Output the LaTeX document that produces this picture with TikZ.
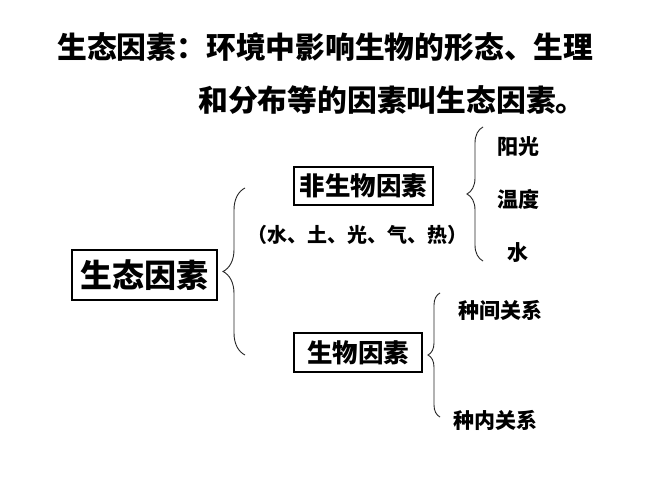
\documentclass[tikz,border=0pt]{standalone}
\usepackage{fontspec}
\newfontfamily\cjk{Noto Sans CJK SC}
\usetikzlibrary{decorations.pathreplacing}
\newcommand\myfs[1]{\fontsize{#1}{#1}\selectfont}
\begin{document}
\begin{tikzpicture}[x=1pt,y=-1pt,
  box/.style={draw=black,line width=1.2pt,inner sep=0pt,font=\cjk\bfseries},
  lbl/.style={inner sep=0pt,font=\cjk\bfseries},
  brc/.style={decorate,decoration={brace,amplitude=#1},line width=0.9pt,draw=black!85}]
\useasboundingbox[fill=white] (0,0) rectangle (667,500);
% title
\node[lbl,anchor=west] (t1) at (57,47) {\myfs{29.8}生态因素：环境中影响生物的形态、生理};
\node[lbl,anchor=west] (t2) at (198,100) {\myfs{29.8}和分布等的因素叫生态因素。};
% boxes
\node[box,minimum width=145pt,minimum height=50pt] (root) at (144.5,275) {\myfs{32}生态因素};
\node[box,minimum width=139pt,minimum height=38pt] (abio) at (363.5,186) {\myfs{25.5}非生物因素};
\node[lbl] (abiosub) at (357,235) {\myfs{20}（水、土、光、气、热）};
\node[box,minimum width=128pt,minimum height=39pt] (bio) at (358,352.5) {\myfs{25.5}生物因素};
% leaves
\node[lbl] (sun) at (518,147) {\myfs{21}阳光};
\node[lbl] (temp) at (518,199) {\myfs{21}温度};
\node[lbl] (water) at (518,253) {\myfs{21}水};
\node[lbl] (inter) at (500,310) {\myfs{21}种间关系};
\node[lbl] (intra) at (495,420) {\myfs{21}种内关系};
% brace end points
\coordinate (b1t) at (245,188);
\coordinate (b1b) at (245,355);
\coordinate (b2t) at (483,127);
\coordinate (b2b) at (483,261);
\coordinate (b3t) at (440,293);
\coordinate (b3b) at (440,417);
\draw[brc=22] (b1b) -- (b1t);
\draw[brc=16] (b2b) -- (b2t);
\draw[brc=12] (b3b) -- (b3t);
\end{tikzpicture}
\end{document}
